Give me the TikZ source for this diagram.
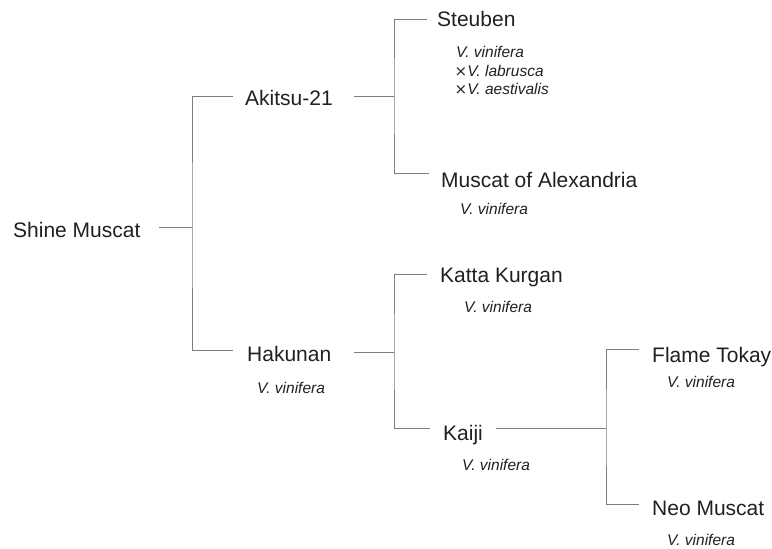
\documentclass[tikz,border=0pt]{standalone}
\usepackage{fontspec}
\setmainfont{Liberation Sans}
\newfontfamily\djvfont{DejaVu Sans ExtraLight}
\definecolor{linegray}{RGB}{125,125,125}
\definecolor{txt}{RGB}{35,31,32}
\newcommand{\crossx}{\hspace{-1.5pt}{\djvfont\fontsize{15}{15}\selectfont ×}\hspace{0pt}}
\begin{document}
\begin{tikzpicture}[x=1pt,y=-1pt,
  lbl/.style={anchor=base west,inner sep=0pt,text=txt,font=\fontsize{21}{25}\selectfont},
  sub/.style={anchor=base west,inner sep=0pt,text=txt,font=\fontsize{15.5}{18.5}\selectfont\itshape},
  conn/.style={draw=linegray,line width=1pt}]
\useasboundingbox (0,0) rectangle (772,549);
% labels
\node[lbl] (sm) at (13,237) {Shine Muscat};
\node[lbl] (ak) at (245,105) {Akitsu-21};
\node[lbl] (hk) at (247,361) {Hakunan};
\node[sub] (hkv) at (257,393) {V. vinifera};
\node[lbl] (st) at (437,26) {Steuben};
\node[sub] (stv1) at (456,57) {V. vinifera};
\node[sub] (stv2) at (456,76) {\crossx V. labrusca};
\node[sub] (stv3) at (456,94) {\crossx V. aestivalis};
\node[lbl] (ma) at (441,187) {Muscat of Alexandria};
\node[sub] (mav) at (460,214) {V. vinifera};
\node[lbl] (kk) at (440,282) {Katta Kurgan};
\node[sub] (kkv) at (464,312) {V. vinifera};
\node[lbl] (kj) at (443,440) {Kaiji};
\node[sub] (kjv) at (462,470) {V. vinifera};
\node[lbl] (ft) at (652,362) {Flame Tokay};
\node[sub] (ftv) at (667,387) {V. vinifera};
\node[lbl] (nm) at (652,515) {Neo Muscat};
\node[sub] (nmv) at (667,545) {V. vinifera};
% connector ends and junctions
\coordinate (smo) at (159,227); \coordinate (j1) at (192,227);
\coordinate (aki) at (233,96);  \coordinate (hki) at (233,350);
\coordinate (ako) at (354,96);  \coordinate (j2) at (394,96);
\coordinate (sti) at (427,19);  \coordinate (mai) at (429,173);
\coordinate (hko) at (354,352); \coordinate (j3) at (394,352);
\coordinate (kki) at (427,274); \coordinate (kji) at (430,428);
\coordinate (kjo) at (496,428); \coordinate (j4) at (606,428);
\coordinate (fti) at (639,349); \coordinate (nmi) at (639,504);
% connectors
\draw[conn] (smo) -- (j1);
\draw[conn] (aki) -| (j1) |- (hki);
\draw[conn] (ako) -- (j2);
\draw[conn] (sti) -| (j2) |- (mai);
\draw[conn] (hko) -- (j3);
\draw[conn] (kki) -| (j3) |- (kji);
\draw[conn] (kjo) -- (j4);
\draw[conn] (fti) -| (j4) |- (nmi);
\end{tikzpicture}
\end{document}
